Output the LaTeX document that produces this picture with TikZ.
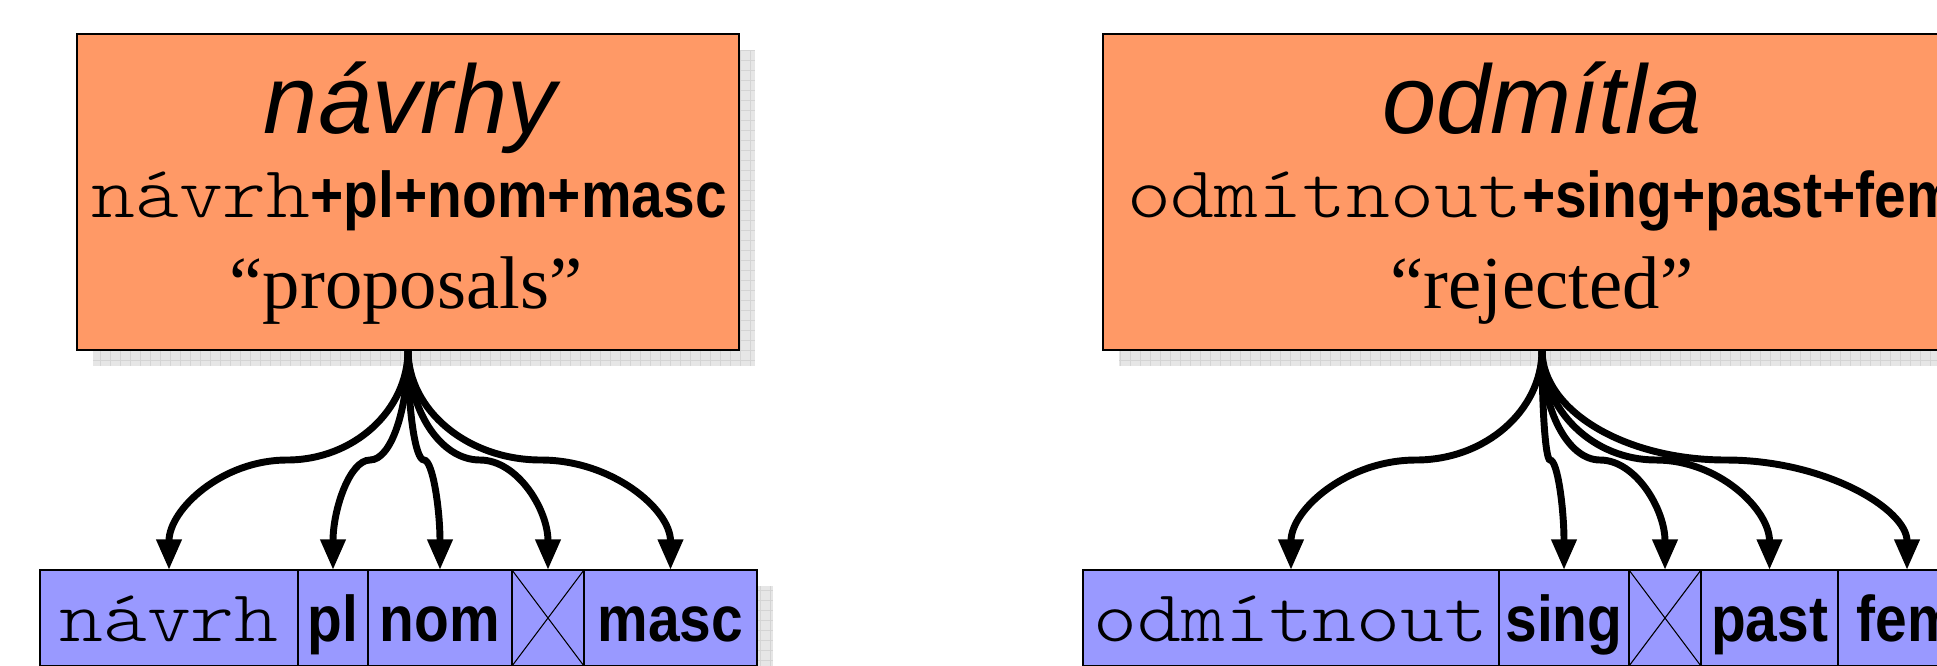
\documentclass[tikz,border=0pt]{standalone}
\usepackage{fontspec}
\usetikzlibrary{arrows.meta,calc}
\newfontfamily\sansf{Liberation Sans}
\newfontfamily\boldf{Liberation Sans}[FakeStretch=0.88]
\newfontfamily\monof{lmmonolt10-regular}[Extension=.otf, FakeStretch=1.14]
\newfontfamily\seriff{Liberation Serif}
\definecolor{boxorange}{HTML}{FF9966}
\definecolor{boxblue}{HTML}{9999FF}
\definecolor{shadowbg}{HTML}{E6E6E6}
\definecolor{shadowln}{HTML}{D4D4D4}
\newcommand\bigit{\sansf\itshape\fontsize{73}{80}\selectfont}
\newcommand\monotxt{\monof\fontsize{55}{60}\selectfont}
\newcommand\boldtxt{\boldf\bfseries\fontsize{48.5}{54}\selectfont}
\newcommand\glosstxt{\seriff\fontsize{56}{62}\selectfont}
\newcommand\dropshadow[4]{%
  \fill[shadowbg] (#1,#2) rectangle (#3,#4);
  \draw[shadowln, line width=0.6pt] (#1,#2) grid[step=7.5pt] (#3,#4);}
\newcommand\branch[3]{%
  \draw[conn] let \p1=(#1), \p2=(#2), \p3=(#3) in
    (\p1) .. controls (\x1,{0.45*(\y1)+0.55*(\y2)}) and ({0.45*(\x2)+0.55*(\x1)},\y2) .. (\p2)
          .. controls ({0.45*(\x2)+0.55*(\x3)},\y2) and (\x3,{0.55*(\y2)+0.45*(\y3)}) .. (\p3);}
\tikzset{
  obox/.style={draw=black, line width=1.5pt, fill=boxorange, anchor=north west,
    inner sep=0pt, outer sep=0pt, minimum height=237pt},
  cell/.style={draw=black, line width=1.2pt, fill=boxblue, anchor=north west,
    inner sep=0pt, outer sep=0pt, minimum height=72pt,
    text height=53.25pt, text depth=18.75pt},
  txt/.style={anchor=base, inner sep=0pt},
  conn/.style={line width=5.2pt, -{Triangle[length=23pt,width=18pt]}},
  xline/.style={line width=0.8pt}
}
\begin{document}
\begin{tikzpicture}[x=0.75pt,y=-0.75pt]
\useasboundingbox (0,0) rectangle (1937,665);
\clip (0,0) rectangle (1937,665);

% ---------- left structure ----------
\dropshadow{93}{50}{755}{366}
\node[obox, minimum width=662*0.75pt] (oL) at (77,34) {};
\node[txt] (tL1) at (410,133) {\bigit návrhy};
\node[txt] (tL2) at (409,217) {\monotxt návrh\boldtxt +pl+nom+masc};
\node[txt] (tL3) at (406,308) {\glosstxt “proposals”};

\dropshadow{56}{586}{773}{682}
\node[cell, minimum width=258*0.75pt] (cL1) at (40,570)  {\monotxt návrh};
\node[cell, minimum width=70*0.75pt]  (cL2) at (298,570) {\boldtxt pl};
\node[cell, minimum width=144*0.75pt] (cL3) at (368,570) {\boldtxt nom};
\node[cell, minimum width=72*0.75pt]  (cL4) at (512,570) {};
\node[cell, minimum width=173*0.75pt] (cL5) at (584,570) {\boldtxt masc};
\draw[xline] (cL4.north west) -- (cL4.south east) (cL4.north east) -- (cL4.south west);

\coordinate (mL1) at (287,460);
\coordinate (mL2) at (370,460);
\coordinate (mL3) at (424,460);
\coordinate (mL4) at (480,460);
\coordinate (mL5) at (541,460);
\branch{oL.south}{mL1}{cL1.north}
\branch{oL.south}{mL2}{cL2.north}
\branch{oL.south}{mL3}{cL3.north}
\branch{oL.south}{mL4}{cL4.north}
\branch{oL.south}{mL5}{cL5.north}

% ---------- right structure ----------
\dropshadow{1119}{50}{1997}{366}
\node[obox, minimum width=878*0.75pt] (oR) at (1103,34) {};
\node[txt] (tR1) at (1542,133) {\bigit odmítla};
\node[txt] (tR2) at (1542,217) {\monotxt odmítnout\boldtxt +sing+past+fem};
\node[txt] (tR3) at (1542,308) {\glosstxt “rejected”};

\dropshadow{1099}{586}{1992}{682}
\node[cell, minimum width=416*0.75pt] (cR1) at (1083,570) {\monotxt odmítnout};
\node[cell, minimum width=130*0.75pt] (cR2) at (1499,570) {\boldtxt sing};
\node[cell, minimum width=72*0.75pt]  (cR3) at (1629,570) {};
\node[cell, minimum width=137*0.75pt] (cR4) at (1701,570) {\boldtxt past};
\node[cell, minimum width=138*0.75pt] (cR5) at (1838,570) {\boldtxt fem};
\draw[xline] (cR3.north west) -- (cR3.south east) (cR3.north east) -- (cR3.south west);

\coordinate (mR1) at (1416,460);
\coordinate (mR2) at (1550,460);
\coordinate (mR3) at (1600,460);
\coordinate (mR4) at (1656,460);
\coordinate (mR5) at (1726,460);
\branch{oR.south}{mR1}{cR1.north}
\branch{oR.south}{mR2}{cR2.north}
\branch{oR.south}{mR3}{cR3.north}
\branch{oR.south}{mR4}{cR4.north}
\branch{oR.south}{mR5}{cR5.north}
\end{tikzpicture}
\end{document}
